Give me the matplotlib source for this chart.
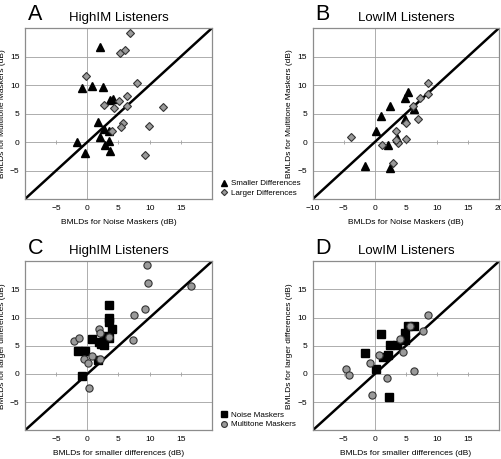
import matplotlib
matplotlib.use("Agg")
import matplotlib.pyplot as plt
from matplotlib.lines import Line2D

# ---------------- data ----------------
# Panel A: HighIM listeners, x = BMLD noise masker, y = BMLD multitone masker
a_small_x = [2.0, -0.9, 0.8, 2.5, 3.6, 4.1, 1.7, 2.7, 3.5, 2.0, -1.6, 2.8, 3.5, 3.6, -0.3]
a_small_y = [16.7, 9.4, 9.8, 9.6, 7.3, 7.5, 3.5, 2.2, 2.0, 0.8, 0.0, -0.5, 0.1, -1.5, -2.0]
a_large_x = [6.8, 5.2, 6.1, -0.2, 8.0, 6.4, 2.6, 5.1, 4.2, 6.3, 12.1, 5.7, 5.4, 4.0, 9.9, 9.3]
a_large_y = [19.2, 15.7, 16.1, 11.6, 10.4, 8.1, 6.5, 7.2, 5.9, 6.3, 6.1, 3.3, 2.6, 2.0, 2.8, -2.3]

# Panel B: LowIM listeners
b_small_x = [5.3, 4.9, 2.5, 1.0, 6.3, 4.9, 0.2, 3.5, 2.1, -1.6, 2.4]
b_small_y = [8.7, 7.8, 6.4, 4.5, 5.8, 4.0, 1.9, 0.7, -0.6, -4.2, -4.6]
b_large_x = [8.5, 8.5, 7.3, 6.1, 7.0, 5.0, 3.4, -3.9, 3.7, 5.0, 1.1, 2.9, 3.4]
b_large_y = [10.4, 8.4, 7.7, 6.3, 4.0, 3.4, 2.0, 0.9, -0.1, 0.6, -0.5, -3.6, 0.4]

# Panel C: HighIM listeners, x = smaller differences, y = larger differences
c_noise_x = [3.5, 3.4, 3.5, 4.0, 2.6, 0.7, 3.5, 1.9, 2.7, 2.2, -1.5, -0.3, 1.7, -0.9]
c_noise_y = [12.2, 10.0, 9.3, 8.0, 6.8, 6.2, 6.4, 5.6, 5.1, 5.4, 4.0, 4.1, 2.5, -0.4]
c_multi_x = [9.5, 9.7, 9.3, 7.5, 7.3, 1.9, 2.1, 3.5, -2.1, -1.4, 0.7, -0.6, 0.05, 2.0, 0.2, 16.7]
c_multi_y = [19.3, 16.2, 11.6, 10.4, 6.0, 8.0, 7.2, 6.5, 5.9, 6.3, 3.2, 2.6, 2.0, 2.7, -2.5, 15.7]

# Panel D: LowIM listeners
d_noise_x = [6.3, 5.3, 4.9, 4.9, 0.95, 2.4, 3.5, -1.5, 1.3, 2.1, 0.2, 2.3]
d_noise_y = [8.6, 8.5, 7.2, 6.1, 7.1, 5.1, 5.1, 3.7, 3.0, 3.4, 0.9, -4.0]
d_multi_x = [8.6, 7.7, 5.7, 4.0, 4.5, 0.7, -0.7, -4.6, -4.2, 1.9, 6.3, -0.5]
d_multi_y = [10.5, 7.7, 8.5, 6.2, 3.9, 3.3, 2.0, 0.9, -0.1, -0.7, 0.5, -3.8]

ticks = [-5, 0, 5, 10, 15]
ticks_b = [-10, -5, 0, 5, 10, 15, 20]
lims = (-10, 20)

# ---------------- figure ----------------
fig = plt.figure(figsize=(5.02, 4.59), dpi=100)
plt.rcParams['font.family'] = ['Liberation Sans', 'DejaVu Sans']

positions = {
    'A': [0.0498, 0.5664, 0.3725, 0.3725],
    'B': [0.6229, 0.5664, 0.3711, 0.3725],
    'C': [0.0498, 0.0625, 0.3725, 0.3682],
    'D': [0.6229, 0.0625, 0.3711, 0.3682],
}
titles = {'A': 'HighIM Listeners', 'B': 'LowIM Listeners',
          'C': 'HighIM Listeners', 'D': 'LowIM Listeners'}
xlabels = {'A': 'BMLDs for Noise Maskers (dB)', 'B': 'BMLDs for Noise Maskers (dB)',
           'C': 'BMLDs for smaller differences (dB)', 'D': 'BMLDs for smaller differences (dB)'}
ylabels = {'A': 'BMLDs for Multitone Maskers (dB)', 'B': 'BMLDs for Multitone Maskers (dB)',
           'C': 'BMLDs for larger differences (dB)', 'D': 'BMLDs for larger differences (dB)'}

grid_c = '#a0a0a0'
frame_c = '#8c8c8c'

axes = {}
for key, pos in positions.items():
    ax = fig.add_axes(pos)
    axes[key] = ax
    ax.set_xlim(*lims)
    ax.set_ylim(*lims)
    xt = ticks_b if key == 'B' else ticks
    ax.set_xticks(xt)
    ax.set_yticks(ticks)
    ax.tick_params(length=0, labelsize=6, pad=4)
    for s in ax.spines.values():
        s.set_color(frame_c)
        s.set_linewidth(0.9)
    for t in ticks:
        ax.axhline(t, color=grid_c, lw=0.6, zorder=0)
    ax.axvline(0, color=grid_c, lw=0.6, zorder=0)
    # small tick marks on the zero axes
    ax.vlines([t for t in xt if t not in (0, -10, 20)], -0.35, 0.35, color=grid_c, lw=0.6, zorder=0)
    ax.plot(lims, lims, color='black', lw=1.8, zorder=2, solid_capstyle='butt')
    ax.set_xlabel(xlabels[key], fontsize=6, labelpad=5)
    ax.set_ylabel(ylabels[key], fontsize=6, labelpad=3)
    ax.set_title(titles[key], fontsize=9.5, pad=5)
    ax.text(0.015, 1.045, key, transform=ax.transAxes, fontsize=15.5,
            ha='left', va='baseline')

tri_kw = dict(marker='^', color='black', markersize=6, linestyle='none', zorder=3)
dia_kw = dict(marker='D', markerfacecolor='#9a9a9a', markeredgecolor='#333333',
              markeredgewidth=0.8, markersize=4.2, linestyle='none', zorder=3)
sq_kw = dict(marker='s', color='black', markersize=5.2, linestyle='none', zorder=3)
circ_kw = dict(marker='o', markerfacecolor='#9a9a9a', markeredgecolor='#333333',
               markeredgewidth=0.8, markersize=5.2, linestyle='none', zorder=3)

axes['A'].plot(a_small_x, a_small_y, **tri_kw)
axes['A'].plot(a_large_x, a_large_y, **dia_kw)
axes['B'].plot(b_small_x, b_small_y, **tri_kw)
axes['B'].plot(b_large_x, b_large_y, **dia_kw)
axes['C'].plot(c_noise_x, c_noise_y, **sq_kw)
axes['C'].plot(c_multi_x, c_multi_y, **circ_kw)
axes['D'].plot(d_noise_x, d_noise_y, **sq_kw)
axes['D'].plot(d_multi_x, d_multi_y, **circ_kw)

# legends
h1 = [Line2D([], [], **dict(tri_kw, markersize=4.5)), Line2D([], [], **dict(dia_kw, markersize=3.2))]
fig.legend(h1, ['Smaller Differences', 'Larger Differences'], loc='upper left',
           bbox_to_anchor=(0.432, 0.617), frameon=False, fontsize=5.8,
           handlelength=0.8, handletextpad=0.4, labelspacing=0.25, borderpad=0)
h2 = [Line2D([], [], **dict(sq_kw, markersize=4.2)), Line2D([], [], **dict(circ_kw, markersize=4.2))]
fig.legend(h2, ['Noise Maskers', 'Multitone Maskers'], loc='upper left',
           bbox_to_anchor=(0.432, 0.113), frameon=False, fontsize=5.8,
           handlelength=0.8, handletextpad=0.4, labelspacing=0.25, borderpad=0)

fig.savefig('out.png', dpi=100)
